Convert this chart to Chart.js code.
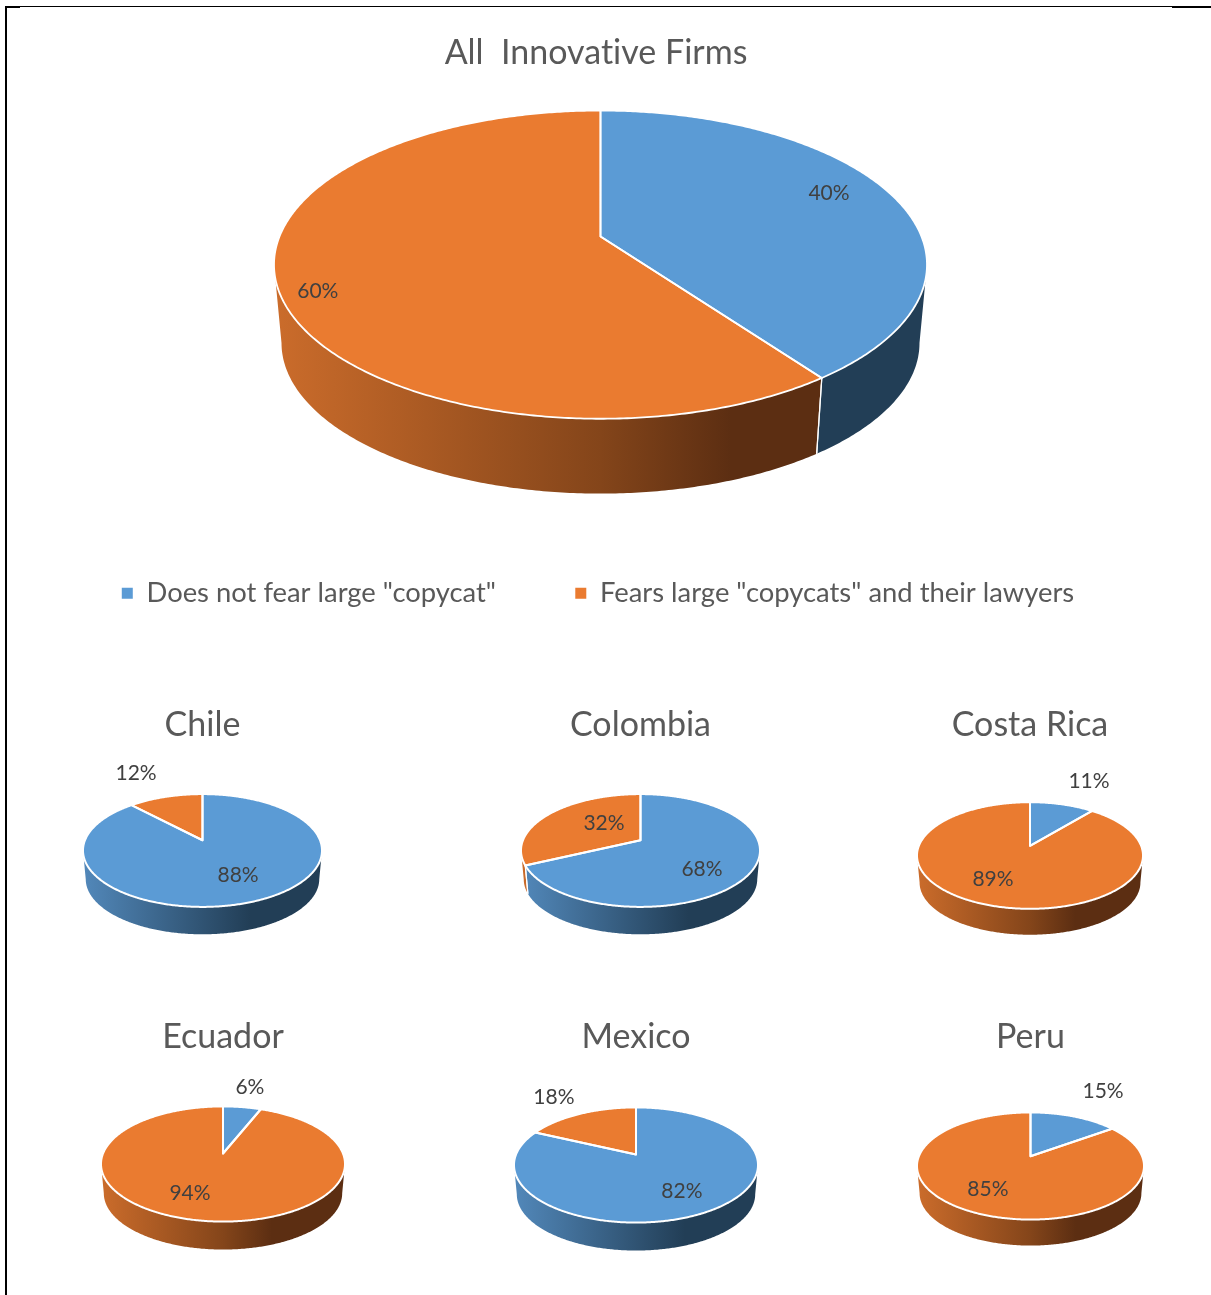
<!DOCTYPE html>
<html>
<head>
<meta charset="utf-8">
<title>Innovative firms and fear of copycats</title>
<script src="https://cdn.jsdelivr.net/npm/chart.js@4"></script>
<style>
  html, body { margin: 0; padding: 0; background: #fff; width: 1211px; height: 1295px; overflow: hidden; }
  .box { position: absolute; }
  .rule { position: absolute; background: #000; }
</style>
</head>
<body>
<div class="rule" style="left:5px;top:6px;width:2px;height:1289px"></div>
<div class="rule" style="left:5px;top:6px;width:1167px;height:1px"></div>
<div class="rule" style="left:5px;top:6px;width:15px;height:2px"></div>
<div class="rule" style="left:1172px;top:6px;width:39px;height:2px"></div>
<script>
// Answer categories shared by every pie
const categories = ['Does not fear large "copycat"', 'Fears large "copycats" and their lawyers'];

// Share of firms per category, in percent
const allFirms  = [40, 60];
const chile     = [88, 12];
const colombia  = [68, 32];
const costaRica = [11, 89];
const ecuador   = [6, 94];
const mexico    = [82, 18];
const peru      = [15, 85];

const FACE = ['#5B9BD5', '#EA7B30'];
const WALL = [
  [[0, '#5288BA'], [0.7, '#223E56'], [1, '#223E56']],
  [[0, '#CB6C2B'], [0.5, '#84451A'], [0.7, '#5C2E12'], [1, '#5C2E12']]
];

// Fixed viewpoint of the tilted disc, relative to its radius
const VIEW = { squash: 0.472, persp: 0.182, depth: 0.242, floor: 0.977 };
const FONT = 'Lato, "Open Sans", sans-serif';

function project(el, shift, alpha, r, level) {
  const a = el.outerRadius, b = a * VIEW.squash, p = VIEW.persp;
  const u = r * Math.cos(alpha), v = r * Math.sin(alpha);
  const w = 1 / (1 - p * v);
  const cx = el.x + shift[0], ay = el.y + shift[1] - b * p;
  const sx = a * Math.sqrt(1 - p * p), sy = b * (1 - p * p);
  const scale = level ? VIEW.floor : 1;
  return {
    x: cx + scale * sx * u * w,
    y: ay + (level ? a * VIEW.depth : 0) + scale * sy * v * w
  };
}

function rimPath(ctx, el, shift, from, to, level, move) {
  const steps = Math.max(2, Math.ceil(Math.abs(to - from) / 0.01));
  for (let i = 0; i <= steps; i++) {
    const q = project(el, shift, from + (to - from) * i / steps, 1, level);
    if (i === 0 && move) ctx.moveTo(q.x, q.y); else ctx.lineTo(q.x, q.y);
  }
}

// Draws each arc from the library as a side wall plus a tilted top face
const tiltedPie = {
  id: 'tiltedPie',
  afterLayout(chart, args, opts) {
    if (opts.legendShift && chart.legend) {
      chart.legend.left += opts.legendShift;
      chart.legend.right += opts.legendShift;
    }
  },
  beforeDraw(chart) {
    // Plain glyphs: no "ti" or "fi" ligatures in the titles
    chart.ctx.textRendering = 'optimizeSpeed';
  },
  beforeDatasetDraw(chart, args, opts) {
    const ctx = chart.ctx, shift = opts.shift || [0, 0];
    const arcs = chart.getDatasetMeta(0).data;
    const lo = Math.asin(VIEW.persp), hi = Math.PI - lo;
    const radius = arcs[0].outerRadius, centre = arcs[0].x + shift[0];

    ctx.save();
    ctx.lineJoin = 'round';
    arcs.forEach((el, i) => {
      const from = Math.max(el.startAngle, lo), to = Math.min(el.endAngle, hi);
      if (to <= from) return;
      const g = ctx.createLinearGradient(centre - radius, 0, centre + radius, 0);
      WALL[i].forEach(s => g.addColorStop(s[0], s[1]));
      ctx.beginPath();
      rimPath(ctx, el, shift, from, to, 0, true);
      rimPath(ctx, el, shift, to, from, 1, false);
      ctx.closePath();
      ctx.fillStyle = g;
      ctx.fill();
    });
    // Seams where two slices meet on the wall
    arcs.forEach(el => {
      [el.startAngle, el.endAngle].forEach(t => {
        if (t < lo || t > hi) return;
        const p0 = project(el, shift, t, 1, 0), p1 = project(el, shift, t, 1, 1);
        ctx.beginPath();
        ctx.moveTo(p0.x, p0.y);
        ctx.lineTo(p1.x, p1.y);
        ctx.strokeStyle = '#fff';
        ctx.lineWidth = 1.2;
        ctx.stroke();
      });
    });
    // Top faces go on last so they hide the back of the wall
    arcs.forEach(el => {
      const apex = project(el, shift, 0, 0, 0);
      ctx.beginPath();
      ctx.moveTo(apex.x, apex.y);
      rimPath(ctx, el, shift, el.startAngle, el.endAngle, 0, false);
      ctx.closePath();
      ctx.fillStyle = el.options.backgroundColor;
      ctx.fill();
    });
    arcs.forEach(el => {
      const apex = project(el, shift, 0, 0, 0);
      ctx.beginPath();
      ctx.moveTo(apex.x, apex.y);
      rimPath(ctx, el, shift, el.startAngle, el.endAngle, 0, false);
      ctx.closePath();
      ctx.strokeStyle = el.options.borderColor;
      ctx.lineWidth = el.options.borderWidth;
      ctx.stroke();
    });
    ctx.restore();
    return false;
  },
  afterDatasetsDraw(chart, args, opts) {
    const ctx = chart.ctx, shift = opts.shift || [0, 0];
    const values = chart.data.datasets[0].data;
    ctx.save();
    ctx.font = '21px ' + FONT;
    ctx.fillStyle = '#404040';
    ctx.textAlign = 'center';
    ctx.textBaseline = 'middle';
    chart.getDatasetMeta(0).data.forEach((el, i) => {
      const mid = (el.startAngle + el.endAngle) / 2 + opts.labels[i][1] * Math.PI / 180;
      const q = project(el, shift, mid, opts.labels[i][0], 0);
      // Lato sits a little high on its middle baseline
      ctx.fillText(values[i] + '%', q.x, q.y + 1);
    });
    ctx.restore();
  }
};

// Frame of each chart on the page; labels hold [radial factor, degrees off the slice middle]
const panels = [
  { title: 'All  Innovative Firms', values: allFirms, cx: 596, top: 32, height: 585, radius: 326.5,
    shift: [4.5, -22.5], stroke: 1.8, legend: true, legendShift: 2, labels: [[0.815, -4.6], [0.893, -4.3]] },
  { title: 'Chile', values: chile, cx: 202.5, top: 704, height: 251, radius: 119.5,
    labels: [[0.62, -4.4], [1.778, -2.7]] },
  { title: 'Colombia', values: colombia, cx: 640.5, top: 704, height: 251, radius: 119.5,
    labels: [[0.669, 11.9], [0.485, 14.6]] },
  { title: 'Costa Rica', values: costaRica, cx: 1030, top: 704, height: 261, radius: 113,
    labels: [[1.8, 2.8], [0.635, 8.3]] },
  { title: 'Ecuador', values: ecuador, cx: 223, top: 1016, height: 254, radius: 122,
    labels: [[1.58, -0.3], [0.661, 10.9]] },
  { title: 'Mexico', values: mexico, cx: 636, top: 1016, height: 256, radius: 122,
    labels: [[0.666, 1.4], [1.548, -0.7]] },
  { title: 'Peru', values: peru, cx: 1030.5, top: 1016, height: 258, radius: 113.5,
    labels: [[1.866, 0], [0.65, 4.9]] }
];

panels.forEach(panel => {
  const half = panel.legend ? 596 : 160;
  const left = Math.floor(panel.cx - half);
  const width = Math.round((panel.cx - left) * 2);
  const box = document.createElement('div');
  box.className = 'box';
  box.style.cssText = `left:${left}px;top:${panel.top}px;width:${width}px;height:${panel.height}px`;
  const canvas = document.createElement('canvas');
  box.appendChild(canvas);
  document.body.appendChild(box);

  new Chart(canvas, {
    type: 'pie',
    data: {
      labels: categories,
      datasets: [{
        data: panel.values,
        backgroundColor: FACE,
        borderColor: '#fff',
        borderWidth: panel.stroke || 2
      }]
    },
    plugins: [tiltedPie],
    options: {
      responsive: true,
      maintainAspectRatio: false,
      animation: false,
      radius: panel.radius,
      plugins: {
        tiltedPie: { shift: panel.shift || [0, 0], labels: panel.labels, legendShift: panel.legendShift || 0 },
        tooltip: { enabled: false },
        title: {
          display: true,
          text: panel.title,
          color: '#595959',
          padding: 0,
          font: { family: FONT, size: 34, weight: 'normal', lineHeight: 1.235 }
        },
        legend: {
          display: !!panel.legend,
          position: 'bottom',
          labels: {
            boxWidth: 11,
            boxHeight: 11,
            padding: 79.3,
            color: '#595959',
            font: { family: FONT, size: 27.4 },
            generateLabels(chart) {
              return Chart.overrides.pie.plugins.legend.labels.generateLabels(chart)
                .map(item => Object.assign(item, { lineWidth: 0 }));
            }
          }
        }
      }
    }
  });
});
</script>
</body>
</html>
